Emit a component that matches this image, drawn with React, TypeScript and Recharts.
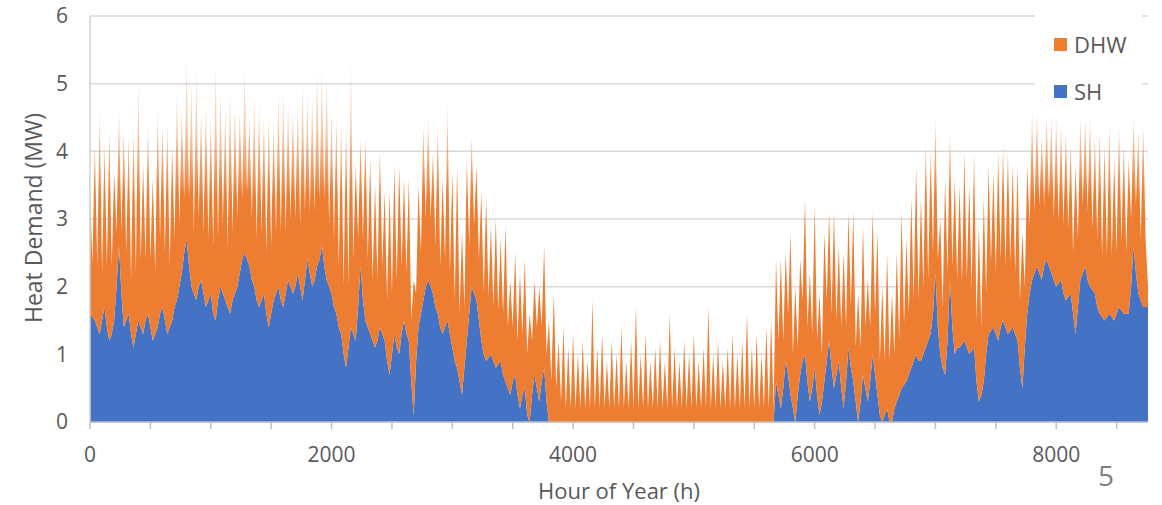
import React from "react";
import { AreaChart, Area, XAxis, YAxis, CartesianGrid, Legend } from "recharts";

const HOUR_STEP = 20;

const SH = [
  1.6, 1.55, 1.5, 1.4, 1.3, 1.5, 1.7, 1.4, 1.2, 1.3, 1.5, 2.0, 2.6, 1.9, 1.4, 1.5, 1.6, 1.3, 1.1, 1.3,
  1.5, 1.4, 1.3, 1.5, 1.6, 1.4, 1.2, 1.3, 1.4, 1.6, 1.7, 1.5, 1.3, 1.4, 1.5, 1.7, 1.8, 2.0, 2.2, 2.5,
  2.7, 2.3, 2.0, 1.9, 1.8, 2.0, 2.1, 1.9, 1.7, 1.8, 1.9, 1.6, 1.5, 1.8, 2.0, 1.9, 1.8, 1.7, 1.6, 1.8,
  1.9, 2.0, 2.2, 2.4, 2.5, 2.4, 2.3, 2.1, 2.0, 1.8, 1.7, 1.8, 1.9, 1.6, 1.4, 1.6, 1.8, 1.9, 2.0, 1.8,
  1.7, 1.9, 2.1, 2.0, 1.9, 2.0, 2.2, 2.0, 1.8, 2.1, 2.4, 2.2, 2.0, 2.1, 2.3, 2.4, 2.6, 2.3, 2.1, 2.0,
  1.9, 1.7, 1.6, 1.4, 1.3, 1.0, 0.8, 1.1, 1.4, 1.3, 1.2, 1.7, 2.3, 1.8, 1.5, 1.4, 1.3, 1.2, 1.1, 1.2,
  1.4, 1.3, 1.2, 0.9, 0.7, 1.0, 1.3, 1.1, 1.0, 1.3, 1.5, 1.3, 1.2, 0.6, 0.1, 0.9, 1.4, 1.6, 1.8, 2.0,
  2.1, 2.0, 1.9, 1.7, 1.6, 1.4, 1.3, 1.4, 1.5, 1.3, 1.1, 0.9, 0.8, 0.6, 0.4, 0.8, 1.2, 1.6, 2.0, 1.9,
  1.8, 1.5, 1.2, 1.0, 0.9, 0.95, 1.0, 0.9, 0.8, 0.85, 0.9, 0.7, 0.6, 0.5, 0.4, 0.6, 0.7, 0.4, 0.2, 0.4,
  0.5, 0.1, 0, 0.4, 0.7, 0.5, 0.3, 0.6, 0.8, 0.3, 0, 0, 0, 0, 0, 0, 0, 0, 0, 0,
  0, 0, 0, 0, 0, 0, 0, 0, 0, 0, 0, 0, 0, 0, 0, 0, 0, 0, 0, 0,
  0, 0, 0, 0, 0, 0, 0, 0, 0, 0, 0, 0, 0, 0, 0, 0, 0, 0, 0, 0,
  0, 0, 0, 0, 0, 0, 0, 0, 0, 0, 0, 0, 0, 0, 0, 0, 0, 0, 0, 0,
  0, 0, 0, 0, 0, 0, 0, 0, 0, 0, 0, 0, 0, 0, 0, 0, 0, 0, 0, 0,
  0, 0, 0, 0, 0.6, 0.4, 0.2, 0.5, 0.9, 0.7, 0.4, 0.2, 0.0, 0.4, 0.7, 0.9, 1.0, 0.6, 0.3, 0.5,
  0.8, 0.4, 0.1, 0.3, 0.6, 0.9, 1.2, 0.8, 0.5, 0.7, 0.9, 0.5, 0.2, 0.6, 1.1, 0.8, 0.6, 0.3, 0.0, 0.3,
  0.7, 0.5, 0.3, 0.6, 1.0, 0.7, 0.4, 0.1, 0.0, 0.1, 0.2, 0.0, 0.0, 0.2, 0.3, 0.4, 0.5, 0.55, 0.6, 0.7,
  0.8, 0.9, 1.0, 0.9, 0.9, 1.0, 1.1, 1.2, 1.3, 1.6, 2.2, 1.4, 1.0, 0.8, 0.7, 1.2, 2.1, 1.4, 1.0, 1.1,
  1.1, 1.15, 1.2, 1.1, 1.0, 1.05, 1.1, 0.6, 0.3, 0.4, 0.6, 1.0, 1.3, 1.35, 1.4, 1.3, 1.2, 1.4, 1.5, 1.4,
  1.3, 1.35, 1.4, 1.3, 1.2, 0.8, 0.5, 1.1, 1.6, 1.9, 2.1, 2.2, 2.3, 2.2, 2.1, 2.3, 2.4, 2.3, 2.2, 2.1,
  2.0, 2.05, 2.1, 1.9, 1.8, 1.85, 1.9, 1.6, 1.3, 1.7, 2.1, 2.2, 2.3, 2.1, 2.0, 1.95, 1.9, 1.7, 1.6, 1.55,
  1.5, 1.55, 1.6, 1.55, 1.5, 1.6, 1.7, 1.65, 1.6, 1.6, 1.6, 2.0, 2.6, 2.2, 1.9, 1.8, 1.7, 1.7, 1.7,
];

const DHW = [
  1.8, 0.8, 2.6, 0.9, 3.3, 0.7, 2.4, 0.9, 3.1, 1.0, 2.2, 0.8, 2.0, 0.9, 2.9, 1.0, 2.6, 0.8, 3.2, 0.9,
  3.6, 1.0, 2.5, 0.9, 2.8, 1.0, 2.4, 0.9, 3.2, 1.1, 2.7, 1.0, 3.1, 0.9, 2.6, 1.0, 3.1, 0.9, 2.4, 0.8,
  2.7, 1.0, 3.0, 0.9, 3.4, 1.0, 2.5, 0.9, 3.0, 0.9, 2.6, 1.0, 3.8, 0.9, 2.9, 1.0, 2.8, 0.9, 3.3, 1.0,
  2.8, 1.0, 2.4, 0.9, 2.7, 1.0, 2.2, 0.9, 2.8, 0.9, 3.0, 1.0, 2.6, 0.9, 3.1, 1.0, 2.6, 0.9, 2.9, 1.0,
  3.2, 0.9, 2.6, 1.0, 2.7, 1.0, 2.5, 0.9, 3.2, 1.0, 2.4, 0.9, 2.8, 1.0, 2.9, 0.9, 2.6, 1.0, 3.0, 0.9,
  2.7, 1.0, 2.9, 0.9, 3.1, 1.0, 3.6, 0.9, 4.0, 1.1, 2.6, 1.0, 1.9, 0.9, 2.7, 1.0, 2.6, 0.9, 2.4, 0.9,
  2.6, 1.0, 2.2, 0.9, 2.7, 0.9, 2.5, 1.0, 2.8, 1.0, 2.1, 0.9, 2.4, 0.9, 2.0, 1.0, 2.1, 0.9, 2.6, 1.0,
  2.4, 1.0, 2.1, 0.9, 2.8, 0.9, 2.3, 1.0, 3.2, 0.9, 2.6, 0.9, 3.0, 1.0, 2.4, 0.9, 2.7, 1.0, 2.2, 1.0,
  2.0, 0.9, 2.2, 0.9, 2.4, 0.9, 1.9, 0.8, 2.2, 0.8, 1.8, 0.9, 2.3, 0.9, 1.7, 0.8, 1.8, 0.8, 2.0, 0.9,
  1.9, 0.9, 1.6, 0.8, 1.4, 0.9, 1.7, 0.8, 1.8, 0.7, 1.5, 0.6, 1.9, 0.5, 1.2, 0.3, 1.4, 0.2, 1.1, 0.2,
  1.3, 0.2, 1.0, 0.2, 1.2, 0.2, 0.9, 0.2, 1.8, 0.2, 1.1, 0.2, 1.3, 0.2, 0.9, 0.2, 1.2, 0.2, 1.0, 0.2,
  1.4, 0.2, 0.9, 0.2, 1.2, 0.2, 1.7, 0.2, 1.0, 0.2, 1.3, 0.2, 0.9, 0.2, 1.1, 0.2, 1.2, 0.2, 0.9, 0.2,
  1.6, 0.2, 1.1, 0.2, 0.9, 0.2, 1.2, 0.2, 1.0, 0.2, 1.3, 0.2, 0.9, 0.2, 1.1, 0.2, 1.7, 0.2, 1.0, 0.2,
  1.2, 0.2, 0.9, 0.2, 1.1, 0.2, 1.3, 0.2, 1.0, 0.2, 1.2, 0.2, 1.6, 0.2, 1.1, 0.2, 1.3, 0.2, 1.0, 0.2,
  1.4, 0.2, 1.5, 0.2, 1.8, 0.8, 2.2, 0.7, 1.6, 0.9, 2.4, 0.8, 2.0, 0.7, 1.7, 0.9, 2.3, 0.8, 1.9, 0.8,
  2.4, 0.8, 1.8, 0.7, 2.2, 0.9, 1.9, 0.8, 2.6, 0.8, 1.7, 0.9, 2.3, 0.8, 2.0, 0.9, 2.5, 0.8, 1.9, 0.8,
  2.2, 0.9, 1.8, 0.8, 2.1, 0.9, 2.4, 0.8, 2.0, 0.8, 2.3, 0.9, 1.9, 0.8, 2.2, 0.8, 2.6, 0.9, 2.1, 0.9,
  2.5, 0.9, 2.8, 0.9, 2.4, 1.0, 3.0, 0.9, 2.7, 0.9, 2.3, 1.0, 2.0, 0.9, 2.9, 1.0, 2.2, 0.9, 2.6, 1.0,
  2.4, 0.9, 2.8, 1.0, 2.5, 0.9, 2.9, 0.9, 2.6, 1.0, 2.7, 0.9, 2.5, 1.0, 2.3, 0.9, 2.8, 1.0, 2.6, 0.9,
  2.7, 1.0, 2.4, 0.9, 2.6, 1.0, 2.3, 0.9, 2.2, 1.0, 2.5, 0.9, 2.3, 1.0, 2.1, 0.9, 2.1, 1.0, 2.3, 0.9,
  2.5, 0.9, 2.3, 1.0, 2.5, 1.0, 2.2, 0.9, 2.5, 1.0, 2.4, 1.0, 2.2, 1.0, 2.5, 0.9, 2.3, 1.0, 2.7, 0.9,
  2.6, 0.9, 2.8, 0.9, 2.4, 0.9, 2.7, 1.0, 2.5, 0.9, 2.3, 1.0, 1.9, 1.0, 2.4, 0.9, 2.7, 1.0, 0.3,
];

const X_TICKS = [0, 500, 1000, 1500, 2000, 2500, 3000, 3500, 4000, 4500, 5000, 5500, 6000, 6500, 7000, 7500, 8000, 8500];
const Y_TICKS = [0, 1, 2, 3, 4, 5, 6];

const BLUE = "#4472C4";
const ORANGE = "#ED7D31";
const TEXT = "#595959";
const FONT = "'Open Sans', sans-serif";

const data = SH.map((sh, i) => ({ hour: i * HOUR_STEP, SH: sh, DHW: DHW[i] }));

const legendItems = [
  { name: "DHW", color: ORANGE, top: 28 },
  { name: "SH", color: BLUE, top: 75 },
];

function LegendBox() {
  return (
    <div style={{ position: "relative", width: 107, height: 108, background: "#fff" }}>
      {legendItems.map((it) => (
        <div key={it.name}>
          <div style={{ position: "absolute", left: 19, top: it.top, width: 13, height: 13, background: it.color }} />
          <div
            style={{
              position: "absolute",
              left: 39,
              top: it.top - 9,
              fontSize: 22,
              lineHeight: "30px",
              color: TEXT,
              fontFamily: FONT,
            }}
          >
            {it.name}
          </div>
        </div>
      ))}
    </div>
  );
}

export default function App() {
  return (
    <div style={{ position: "absolute", left: 0, top: 0, width: 1162, height: 505, background: "#fff", fontFamily: FONT }}>
      <AreaChart width={1162} height={505} data={data} margin={{ top: 16, right: 14, left: 0, bottom: 0 }}>
        <defs>
          {/* thin hourly spikes read as pale orange higher up */}
          <linearGradient id="dhwFade" x1="0" y1="0" x2="0" y2="1">
            <stop offset="0" stopColor={ORANGE} stopOpacity={0.15} />
            <stop offset="0.2" stopColor={ORANGE} stopOpacity={0.4} />
            <stop offset="0.38" stopColor={ORANGE} stopOpacity={1} />
            <stop offset="1" stopColor={ORANGE} stopOpacity={1} />
          </linearGradient>
        </defs>
        <CartesianGrid vertical={false} stroke="#d9d9d9" strokeWidth={1.5} />
        <XAxis
          dataKey="hour"
          type="number"
          domain={[0, 8760]}
          ticks={X_TICKS}
          interval={0}
          tickFormatter={(h: number) => (h % 2000 === 0 ? String(h) : "")}
          height={83}
          tickSize={7}
          tickMargin={18}
          axisLine={{ stroke: "#bfbfbf", strokeWidth: 1.5 }}
          tickLine={{ stroke: "#bfbfbf", strokeWidth: 1.5 }}
          tick={{ fontSize: 21, fill: TEXT, fontFamily: FONT }}
        />
        <YAxis
          domain={[0, 6]}
          ticks={Y_TICKS}
          width={90}
          tickSize={0}
          tickMargin={22}
          tickLine={false}
          axisLine={{ stroke: "#d0d0d0", strokeWidth: 1.5 }}
          tick={{ fontSize: 21, fill: TEXT, fontFamily: FONT }}
        />
        <Area type="linear" dataKey="SH" stackId="1" stroke="none" fill={BLUE} fillOpacity={1} dot={false} activeDot={false} isAnimationActive={false} />
        <Area type="linear" dataKey="DHW" stackId="1" stroke="none" fill="url(#dhwFade)" fillOpacity={1} dot={false} activeDot={false} isAnimationActive={false} />
        <Legend
          layout="vertical"
          align="center"
          verticalAlign="middle"
          content={() => <LegendBox />}
          wrapperStyle={{ position: "absolute", left: 1035, top: 10, width: 107, height: 108 }}
        />
      </AreaChart>
      <div
        style={{
          position: "absolute",
          left: 33,
          top: 218,
          transform: "translate(-50%, -50%) rotate(-90deg)",
          whiteSpace: "nowrap",
          fontSize: 23,
          lineHeight: 1,
          color: TEXT,
        }}
      >
        Heat Demand (MW)
      </div>
      <div
        style={{
          position: "absolute",
          left: 619,
          top: 490,
          transform: "translate(-50%, -50%)",
          whiteSpace: "nowrap",
          fontSize: 22,
          lineHeight: 1,
          color: TEXT,
        }}
      >
        Hour of Year (h)
      </div>
      <div
        style={{
          position: "absolute",
          left: 1106,
          top: 475,
          transform: "translate(-50%, -50%)",
          fontSize: 28,
          lineHeight: 1,
          color: "#7f7f7f",
        }}
      >
        5
      </div>
    </div>
  );
}
